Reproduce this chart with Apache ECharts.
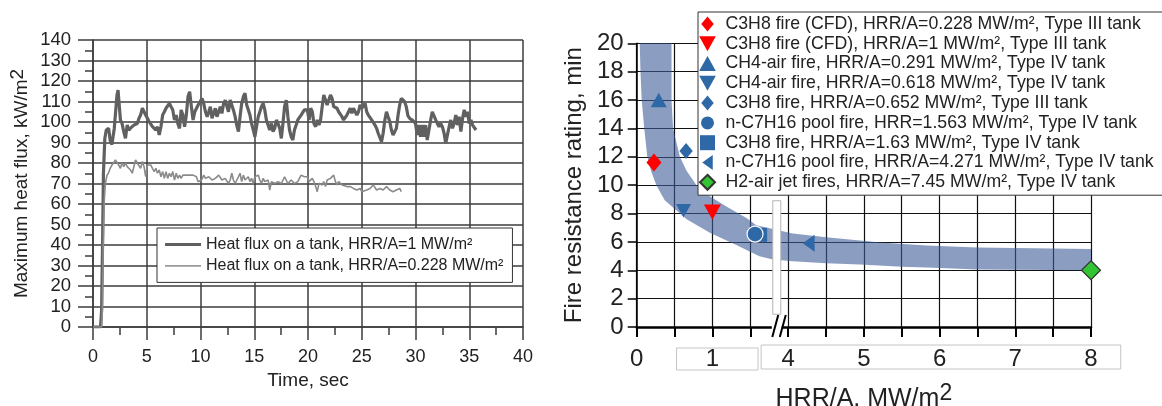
<!DOCTYPE html>
<html>
<head>
<meta charset="utf-8">
<script src="https://cdn.jsdelivr.net/npm/echarts@6/dist/echarts.min.js"></script>
<style>
  html, body { margin: 0; padding: 0; background: #fff; }
  #chart { width: 1162px; height: 406px; }
</style>
</head>
<body>
<div id="chart"></div>
<script>
// ---- Left panel: maximum heat flux on the tank vs time ----
const fluxHighName = 'Heat flux on a tank, HRR/A=1 MW/m\u00B2';
const fluxLowName = 'Heat flux on a tank, HRR/A=0.228 MW/m\u00B2';

// [time s, heat flux kW/m2]
const fluxHigh = [
  [0,0],[0.7,0],[0.8,8],[0.9,45],[0.97,75],[1.1,92],[1.23,96],[1.45,97],[1.6,91],[1.76,89],[1.98,97],
  [2.23,113],[2.33,115.6],[2.55,101],[2.7,99.3],[2.86,95.3],[3.02,92],[3.18,98.5],[3.33,96],[3.49,97],
  [3.65,97],[3.8,98.5],[3.96,97.7],[4.12,99.3],[4.28,101.8],[4.43,103.4],[4.59,106.7],[4.75,105],
  [4.9,103.4],[5.06,102.6],[5.22,100.2],[5.38,101],[5.53,97.7],[5.69,98.5],[5.85,96.1],[6.0,97.7],
  [6.16,93.7],[6.32,97.7],[6.48,103.4],[6.64,105],[6.79,106.7],[6.95,107.5],[7.11,109.1],[7.26,107.5],
  [7.42,105.9],[7.58,101],[7.74,103.4],[7.89,99.3],[8.05,96.9],[8.2,105.9],[8.36,103.4],[8.52,97.7],
  [8.68,103.4],[8.84,112.4],[8.99,114.8],[9.15,107.5],[9.31,101],[9.47,105],[9.78,108.3],[10.15,111.5],
  [10.3,109],[10.46,105],[10.62,102.6],[10.77,105],[10.92,107.5],[11.07,101.8],[11.23,101],[11.38,106.7],
  [11.53,102.6],[11.69,105],[11.84,107.5],[11.99,104.2],[12.15,109],[12.3,110.7],[12.45,109.9],[12.6,105],
  [12.76,110.7],[12.91,111.5],[13.06,105.9],[13.22,102.6],[13.37,98.5],[13.53,95.3],[13.68,102.6],
  [13.83,109],[13.99,112.4],[14.14,114],[14.3,108.3],[14.45,105.9],[14.6,103.4],[14.75,99.3],[14.91,96.1],
  [15.06,92.8],[15.21,97.7],[15.37,102.6],[15.52,105],[15.67,107.5],[15.83,109.1],[15.98,105.9],[16.13,101],
  [16.29,100.2],[16.44,96.1],[16.6,99.3],[16.75,95.3],[16.9,96.9],[17.06,101],[17.21,99.3],[17.37,96.9],
  [17.52,92],[17.67,99.3],[17.82,107.5],[17.98,110.7],[18.13,102.6],[18.28,96.1],[18.44,92.8],[18.59,91.2],
  [18.74,96.1],[18.9,98.5],[19.05,101],[19.36,103.4],[19.66,105.9],[19.94,105.9],[20.1,101],[20.25,106.7],
  [20.4,105],[20.55,99.3],[20.71,97.7],[20.86,101],[21.02,98.5],[21.17,101],[21.32,107.5],[21.47,113.2],
  [21.63,110.7],[21.78,108.3],[21.94,107.5],[22.09,113.2],[22.24,111.5],[22.39,107.5],[22.55,108.3],
  [22.7,106.7],[22.85,105],[23.0,105],[23.16,102.6],[23.31,101],[23.47,100.2],[23.62,103.4],[23.77,105],
  [23.93,106.7],[24.08,104.2],[24.23,106.7],[24.39,107.5],[24.54,103.4],[24.7,105],[24.85,108.3],[25.0,106.7],
  [25.15,107.5],[25.31,109.1],[25.46,105],[25.61,103.4],[25.77,102.6],[25.92,101],[26.07,101.8],[26.23,98.5],
  [26.38,96.9],[26.53,94.5],[26.69,93.7],[26.84,90.4],[26.99,94.5],[27.15,101],[27.3,105],[27.45,102.6],
  [27.61,100.2],[27.76,96.1],[27.91,93.7],[28.07,95.3],[28.22,96.9],[28.38,103.4],[28.53,108.3],[28.68,111.5],
  [28.83,111.5],[28.99,109.9],[29.14,107.5],[29.3,103],[29.5,101.5],[29.69,101],[29.84,101.8],[30.0,99.3],
  [30.16,93.7],[30.31,98.5],[30.47,92.8],[30.63,98.5],[30.78,92.8],[30.94,98.5],[31.09,91.2],[31.25,96.1],
  [31.41,101],[31.56,105],[31.72,105],[31.88,101],[32.03,99.3],[32.19,97.7],[32.34,99.3],[32.5,97.7],
  [32.66,94.5],[32.81,89.6],[32.97,93.7],[33.13,97.7],[33.28,101],[33.44,96.9],[33.59,99.3],[33.75,103.4],
  [33.91,98.5],[34.06,102.6],[34.22,95.3],[34.38,101.8],[34.53,105.9],[34.69,102.6],[34.84,105],[35.0,99.3],
  [35.16,101],[35.31,98.5],[35.47,97.7],[35.63,96.1]
];

const fluxLow = [
  [0,0],[0.8,0],[0.88,10],[0.95,40],[1.05,62],[1.15,70],[1.3,74],[1.45,75.2],[1.6,77.4],[1.76,79],[1.92,80],
  [2.08,81.5],[2.23,80.7],[2.39,79],[2.55,77.4],[2.7,80],[2.86,78.2],[3.02,80],[3.18,78.2],[3.33,79],
  [3.49,76.6],[3.65,75],[3.8,78.2],[3.96,81.5],[4.12,80],[4.28,80.7],[4.43,77.4],[4.59,80.7],[4.75,78.2],
  [4.9,73.3],[5.06,79],[5.22,78.2],[5.38,79],[5.53,77.4],[5.69,75.8],[5.85,77.4],[6.0,75],[6.16,76.6],
  [6.32,73.3],[6.48,75.8],[6.64,72.5],[6.79,75.8],[6.95,72.5],[7.11,75],[7.26,73.3],[7.42,75.8],[7.58,71.7],
  [7.74,75],[7.89,72.5],[8.05,74.1],[8.2,72.5],[8.36,74.1],[8.52,73.3],[8.68,74.1],[8.84,73.3],[8.99,74.1],
  [9.15,73.3],[9.31,74.1],[9.47,75],[9.62,73.3],[9.78,70.9],[10.1,71.7],[10.3,74.1],[10.46,72.5],[10.77,73.3],
  [11.07,71.7],[11.38,72.5],[11.69,74.1],[11.99,71.7],[12.3,72.5],[12.6,70],[12.76,71.7],[12.91,75],
  [13.06,71.7],[13.22,70],[13.53,73.3],[13.68,75],[13.83,70.9],[13.99,74.1],[14.14,71.7],[14.45,73.3],
  [14.6,70.9],[14.75,72.5],[14.91,70],[15.06,73.3],[15.37,74.1],[15.52,71.7],[15.67,70],[15.83,72.5],
  [15.98,70.9],[16.29,71.7],[16.44,66.8],[16.6,70.9],[16.9,70],[17.21,70.9],[17.52,70],[17.82,73.3],
  [18.13,70],[18.44,71.7],[18.74,70],[19.05,70.9],[19.36,74.1],[19.66,73.3],[19.94,73.3],[20.1,70.9],
  [20.25,71.7],[20.4,72.5],[20.55,70.9],[20.71,68.5],[20.86,66],[21.02,70.1],[21.17,70.9],[21.32,69.3],
  [21.47,70.9],[21.63,68.5],[21.78,71.7],[22.09,72.5],[22.24,71.7],[22.39,74.1],[22.55,70.9],[22.7,69.3],
  [22.85,70.9],[23.0,70.1],[23.16,69.3],[23.31,70.1],[23.62,68.5],[23.93,68.5],[24.23,67.6],[24.54,66.8],
  [24.85,67.6],[25.0,66],[25.15,66],[25.46,66.8],[25.77,67.6],[26.07,69.3],[26.38,66.8],[26.69,67.6],
  [26.99,66.8],[27.3,68.5],[27.61,66.8],[27.91,66],[28.22,66.8],[28.53,67.6],[28.68,66]
];

// ---- Right panel: fire resistance rating vs HRR/A ----
const fireNames = [
  'C3H8 fire (CFD), HRR/A=0.228 MW/m\u00B2, Type III tank',
  'C3H8 fire (CFD), HRR/A=1 MW/m\u00B2, Type III tank',
  'CH4-air fire, HRR/A=0.291 MW/m\u00B2, Type IV tank',
  'CH4-air fire, HRR/A=0.618 MW/m\u00B2, Type IV tank',
  'C3H8 fire, HRR/A=0.652 MW/m\u00B2, Type III tank',
  'n-C7H16 pool fire, HRR=1.563 MW/m\u00B2, Type IV tank',
  'C3H8 fire, HRR/A=1.63 MW/m\u00B2, Type IV tank',
  'n-C7H16 pool fire, HRR/A=4.271 MW/m\u00B2, Type IV tank',
  'H2-air jet fires, HRR/A=7.45 MW/m\u00B2, Type IV tank'
];
const fireHRR = [0.228, 1, 0.291, 0.618, 0.652, 1.563, 1.63, 4.271, 8];
const fireRating = [11.6, 8.1, 16.0, 8.2, 12.4, 6.55, 6.5, 5.9, 4.0];

// Trend band, outer (lower-left) and inner (upper-right) edges: [HRR/A, min]
const bandLower = [
  [0.04,20],[0.05,18],[0.066,16],[0.1,14],[0.14,12],[0.19,11],[0.26,10],[0.37,8.94],[0.66,7.6],
  [0.96,6.67],[1.35,5.7],[1.62,4.98],[1.8,4.75],[4.06,4.63],[4.5,4.5],[4.95,4.4],[5.5,4.25],[5.83,4.2],
  [6.5,4.05],[8,4.0]
];
const bandUpper = [
  [8,5.5],[6.5,5.6],[5.83,5.75],[5.22,5.95],[4.95,6.1],[4.5,6.33],[4.06,6.6],[1.8,6.9],[1.58,7.18],
  [1.45,7.68],[1.19,8.47],[0.97,9.2],[0.79,10],[0.66,11],[0.57,12],[0.48,14],[0.46,16],[0.46,20]
];

// Tick labels of the broken HRR/A axis, one per integer position on the drawn scale
const hrrTickLabels = ['0', '1', '4', '5', '6', '7', '8'];

// The HRR/A axis skips the interval 2..4: positions above the break are shifted left by 2
const BREAK_SHIFT = 2;
function axisPos(x) { return x <= 2 ? x : x - BREAK_SHIFT; }

const FONT = '"Liberation Sans", Arial, sans-serif';
const BLUE = '#2f68a6';
const RED = '#ff0000';

// Marker outlines (aspect ratio is kept when scaled)
const diamondTall = 'path://M5,0L10,6L5,12L0,6Z';
const diamondSq = 'path://M5,0L10,5L5,10L0,5Z';
const triDown = 'path://M0,0L10,0L5,9Z';
const triLeft = 'path://M0,5L7,0L7,10Z';
const triUp = 'path://M5,0L10,9L0,9Z';
const square = 'path://M0,0H10V10H0Z';

const fireStyles = [
  { symbol: diamondTall, size: 18, color: RED },
  { symbol: triDown, size: 17, color: RED },
  { symbol: triUp, size: 16, color: BLUE },
  { symbol: triDown, size: 15, color: BLUE },
  { symbol: diamondTall, size: 16, color: BLUE },
  { symbol: 'circle', size: 16, color: BLUE, border: '#fff', z: 4 },
  { symbol: square, size: 14, color: BLUE },
  { symbol: triLeft, size: 17, color: BLUE },
  { symbol: diamondSq, size: 19, color: '#33c433', border: '#333' }
];

const chart = echarts.init(document.getElementById('chart'), null, { renderer: 'canvas' });

const gridColor = '#3c3c3c';

const scatterSeries = fireNames.map((name, i) => {
  const st = fireStyles[i];
  return {
    type: 'scatter', name,
    xAxisIndex: 1, yAxisIndex: 1,
    symbol: st.symbol, symbolSize: st.size, symbolKeepAspect: true,
    z: st.z || 3,
    itemStyle: { color: st.color, borderColor: st.border || st.color, borderWidth: st.border ? 1.2 : 0, opacity: 1 },
    data: [[axisPos(fireHRR[i]), fireRating[i]]]
  };
});

const option = {
  animation: false,
  backgroundColor: '#fff',
  textStyle: { fontFamily: FONT },
  grid: [
    { left: 93, top: 40, width: 430, height: 287, outerBoundsMode: 'none', containLabel: false },
    { left: 636.7, top: 43.3, width: 454.3, height: 283.7, outerBoundsMode: 'none', containLabel: false }
  ],
  legend: [
    {
      data: [
        { name: fluxHighName, icon: 'path://M0,0H36V3.2H0Z' },
        { name: fluxLowName, icon: 'path://M0,0H36V1.7H0Z' }
      ],
      left: 157, top: 228,
      orient: 'vertical',
      itemWidth: 36, itemHeight: 12, itemGap: 2.4,
      symbolKeepAspect: true,
      padding: [7, 9, 7, 8],
      borderColor: '#333', borderWidth: 1, backgroundColor: '#fff',
      textStyle: { fontFamily: FONT, fontSize: 16, color: '#222', lineHeight: 19 },
      z: 10
    },
    {
      data: fireNames.map((n, i) => ({ name: n, icon: fireStyles[i].symbol })),
      left: 698, top: 12,
      orient: 'vertical',
      itemWidth: 26, itemHeight: 15, itemGap: 0,
      symbolKeepAspect: true,
      padding: [2, 30, 3, 1],
      borderColor: '#333', borderWidth: 1, backgroundColor: '#fff',
      textStyle: { fontFamily: FONT, fontSize: 17.7, color: '#222', lineHeight: 19.8 },
      z: 10
    }
  ],
  xAxis: [
    {
      type: 'value', gridIndex: 0, min: 0, max: 40, interval: 5,
      name: 'Time, sec', nameLocation: 'middle', nameGap: 44,
      nameTextStyle: { fontFamily: FONT, fontSize: 19, color: '#222' },
      axisLine: { show: true, lineStyle: { color: gridColor, width: 1.5 } },
      axisTick: { show: true, length: 13, lineStyle: { color: gridColor, width: 1.5 } },
      minorTick: { show: true, splitNumber: 2, length: 8, lineStyle: { color: gridColor, width: 1.5 } },
      axisLabel: { fontFamily: FONT, fontSize: 18, color: '#222', margin: 21 },
      splitLine: { show: true, lineStyle: { color: gridColor, width: 1.5 } }
    },
    {
      type: 'value', gridIndex: 1, min: 0, max: 6, interval: 0.5,
      name: '{a|HRR/A, MW/m}{s|2}', nameLocation: 'middle', nameGap: 55,
      nameTextStyle: {
        rich: {
          a: { fontFamily: FONT, fontSize: 25, color: '#222' },
          s: { fontFamily: FONT, fontSize: 23, color: '#222', padding: [0, 0, 11, 0] }
        }
      },
      axisLine: { show: true, onZero: false, lineStyle: { color: '#000', width: 2.5 } },
      axisTick: { show: true, length: 10, lineStyle: { color: '#000', width: 2 } },
      axisLabel: {
        fontFamily: FONT, fontSize: 24, color: '#222', margin: 20,
        formatter: v => {
          const k = Math.round(v);
          return Math.abs(v - k) < 1e-6 && hrrTickLabels[k] !== undefined ? hrrTickLabels[k] : '';
        }
      },
      splitLine: { show: true, lineStyle: { color: '#111', width: 1.2 } }
    }
  ],
  yAxis: [
    {
      type: 'value', gridIndex: 0, min: 0, max: 140, interval: 10,
      name: '{a|Maximum heat flux, kW/m}{s|2}', nameLocation: 'middle', nameGap: 58,
      nameTextStyle: {
        rich: {
          a: { fontFamily: FONT, fontSize: 19, color: '#222' },
          s: { fontFamily: FONT, fontSize: 19, color: '#222', padding: [0, 0, 8, 0] }
        }
      },
      axisLine: { show: true, lineStyle: { color: gridColor, width: 1.5 } },
      axisTick: { show: true, length: 15, lineStyle: { color: gridColor, width: 1.5 } },
      minorTick: { show: true, splitNumber: 2, length: 8, lineStyle: { color: gridColor, width: 1.5 } },
      axisLabel: { fontFamily: FONT, fontSize: 18.5, color: '#222', margin: 22 },
      splitLine: { show: true, lineStyle: { color: gridColor, width: 1.5 } }
    },
    {
      type: 'value', gridIndex: 1, min: 0, max: 20, interval: 2,
      name: 'Fire resistance rating, min', nameLocation: 'middle', nameGap: 50,
      nameTextStyle: { fontFamily: FONT, fontSize: 24, color: '#222' },
      axisLine: { show: true, onZero: false, lineStyle: { color: '#000', width: 1.5 } },
      axisTick: { show: true, length: 9, lineStyle: { color: '#000', width: 1.5 } },
      axisLabel: { fontFamily: FONT, fontSize: 24, color: '#222', margin: 13 },
      splitLine: { show: true, lineStyle: { color: '#111', width: 1.2 } }
    }
  ],
  series: [
    {
      type: 'line', name: fluxHighName, xAxisIndex: 0, yAxisIndex: 0,
      data: fluxHigh, symbol: 'none', showSymbol: false, z: 3,
      lineStyle: { color: '#606060', width: 3.2 }, itemStyle: { color: '#606060' }
    },
    {
      type: 'line', name: fluxLowName, xAxisIndex: 0, yAxisIndex: 0,
      data: fluxLow, symbol: 'none', showSymbol: false, z: 3,
      lineStyle: { color: '#8a8a8a', width: 1.6 }, itemStyle: { color: '#9a9a9a' }
    },
    {
      type: 'custom', xAxisIndex: 1, yAxisIndex: 1, z: 1,
      data: [[0, 0]],
      renderItem: (params, api) => {
        const pts = bandLower.concat(bandUpper).map(p => api.coord([axisPos(p[0]), p[1]]));
        return {
          type: 'polygon',
          shape: { points: pts },
          style: { fill: 'rgba(62,92,152,0.6)', stroke: null }
        };
      },
      silent: true
    },
    ...scatterSeries
  ]
};

chart.setOption(option);

// Axis break decorations on the HRR/A axis (white bar, boxed tick labels, "//" marks)
function drawBreak() {
  const pBreakTop = chart.convertToPixel({ gridIndex: 1 }, [1.85, 8.9]);
  const pBreakBot = chart.convertToPixel({ gridIndex: 1 }, [1.85, 0.9]);
  const p0 = chart.convertToPixel({ gridIndex: 1 }, [1.85, 0]);
  const bx = pBreakTop[0];
  const ax = chart.convertToPixel({ gridIndex: 1 }, [0.5, 0])[0];
  const a1 = chart.convertToPixel({ gridIndex: 1 }, [1.55, 0])[0];
  const a2 = chart.convertToPixel({ gridIndex: 1 }, [1.63, 0])[0];
  const a3 = chart.convertToPixel({ gridIndex: 1 }, [6.38, 0])[0];
  const y0 = p0[1];
  chart.setOption({
    graphic: [
      { type: 'rect', z: 20, shape: { x: bx - 4, y: pBreakTop[1], width: 8, height: pBreakBot[1] - pBreakTop[1] },
        style: { fill: '#fff', stroke: '#b4b4b4', lineWidth: 1 } },
      { type: 'rect', z: 20, shape: { x: bx - 5, y: y0 - 3, width: 10, height: 6 }, style: { fill: '#fff' } },
      { type: 'line', z: 21, shape: { x1: bx - 4.5, y1: y0 + 10, x2: bx + 1.5, y2: y0 - 12 }, style: { stroke: '#000', lineWidth: 2 } },
      { type: 'line', z: 21, shape: { x1: bx + 3, y1: y0 + 10, x2: bx + 9, y2: y0 - 12 }, style: { stroke: '#000', lineWidth: 2 } },
      { type: 'rect', z: 20, shape: { x: ax + 2, y: y0 + 21, width: a1 - ax + 2, height: 22 },
        style: { fill: 'none', stroke: '#c4c4c4', lineWidth: 1 } },
      { type: 'rect', z: 20, shape: { x: a2 + 1, y: y0 + 18, width: a3 - a2, height: 24 },
        style: { fill: 'none', stroke: '#c4c4c4', lineWidth: 1 } }
    ]
  });
}
drawBreak();
</script>
</body>
</html>
